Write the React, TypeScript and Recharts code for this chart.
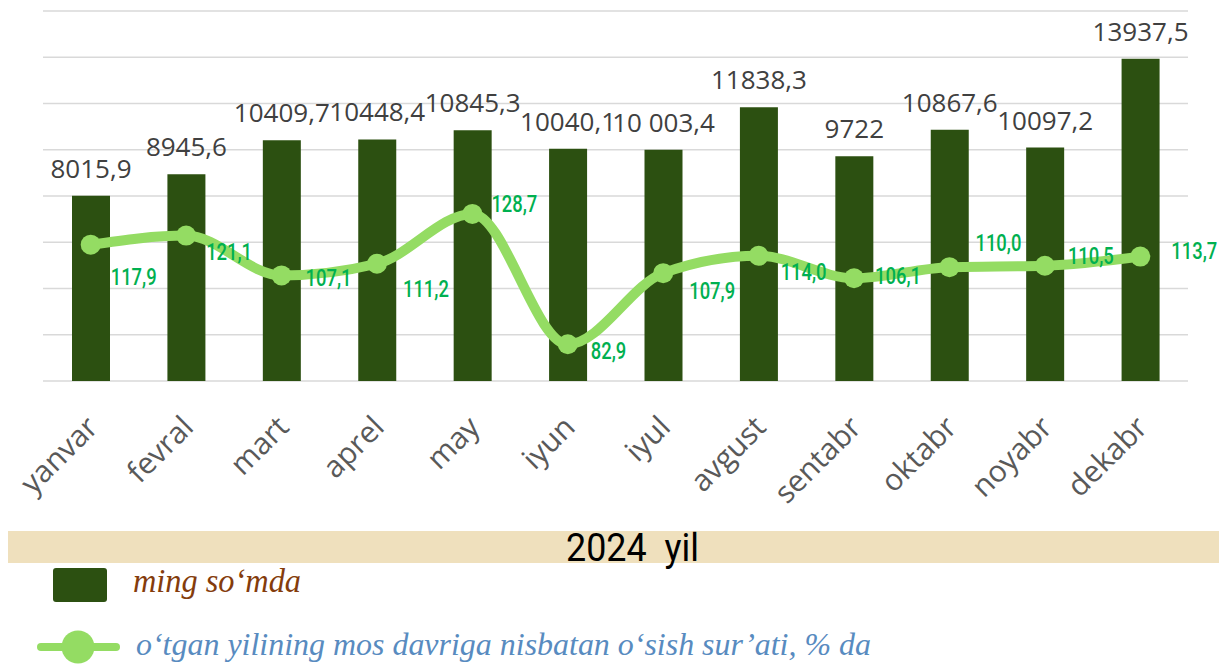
import { ComposedChart, Bar, Line, XAxis, YAxis, CartesianGrid, LabelList } from 'recharts'

const months = ['yanvar', 'fevral', 'mart', 'aprel', 'may', 'iyun', 'iyul', 'avgust', 'sentabr', 'oktabr', 'noyabr', 'dekabr']
const amountValues = [8015.9, 8945.6, 10409.7, 10448.4, 10845.3, 10040.1, 10003.4, 11838.3, 9722, 10867.6, 10097.2, 13937.5]
const amountLabels = ['8015,9', '8945,6', '10409,7', '10448,4', '10845,3', '10040,1', '10 003,4', '11838,3', '9722', '10867,6', '10097,2', '13937,5']
const growthValues = [117.9, 121.1, 107.1, 111.2, 128.7, 82.9, 107.9, 114.0, 106.1, 110.0, 110.5, 113.7]
const amountTicks = [0, 2000, 4000, 6000, 8000, 10000, 12000, 14000, 16000]

// growth labels sit beside the points, each nudged a bit like in the source
const growthLabelDx = [20, 20, 24, 26, 19, 23, 26, 22, 21, 26, 23, 31]
const growthLabelDy = [33, 17, 3, 26, -10, 7, 18, 17, -2, -24, -9, -5]

const BAR_COLOR = '#2c5011'
const LINE_COLOR = '#94dc63'

const data = months.map((m, i) => ({ month: m, amount: amountValues[i], growth: growthValues[i] }))

function MonthTick(props: any) {
  const { x, y, payload } = props
  const px = x + 9
  const py = y + 48
  return (
    <text x={px} y={py} transform={`rotate(-45 ${px} ${py})`} textAnchor="end" fill="#595959" fontSize={30} fontFamily="Open Sans">
      {payload.value}
    </text>
  )
}

function AmountLabel(props: any) {
  const { x, y, width, index } = props
  return (
    <text x={x + width / 2} y={y - 18} textAnchor="middle" fill="#404040" fontSize={26} fontFamily="Open Sans">
      {amountLabels[index]}
    </text>
  )
}

function GrowthLabel(props: any) {
  const { x, y, value, index } = props
  const lx = x + growthLabelDx[index]
  const ly = y + growthLabelDy[index]
  return (
    <text
      transform={`translate(${lx} ${ly}) scale(0.8 1)`}
      dominantBaseline="central"
      fill="#00b050"
      fontSize={23}
      fontWeight={500}
      fontFamily="Roboto"
    >
      {Number(value).toFixed(1).replace('.', ',')}
    </text>
  )
}

export default function App() {
  return (
    <div style={{ position: 'absolute', left: 0, top: 0, width: 1219, height: 664, background: '#fff', fontFamily: 'Open Sans' }}>
      <ComposedChart width={1219} height={520} data={data} margin={{ top: 11, right: 31, bottom: 20, left: 43 }}>
        <CartesianGrid yAxisId="left" vertical={false} stroke="#d9d9d9" strokeWidth={1.5} />
        <XAxis dataKey="month" height={119} axisLine={false} tickLine={false} tickSize={0} tickMargin={0} interval={0} tick={<MonthTick />} />
        <YAxis yAxisId="left" domain={[0, 16000]} ticks={amountTicks} hide />
        <YAxis yAxisId="right" orientation="right" domain={[70, 200]} hide />
        <Bar yAxisId="left" dataKey="amount" fill={BAR_COLOR} barSize={38} isAnimationActive={false}>
          <LabelList dataKey="amount" content={<AmountLabel />} />
        </Bar>
        <Line
          yAxisId="right"
          type="monotone"
          dataKey="growth"
          stroke={LINE_COLOR}
          strokeWidth={10}
          dot={{ r: 10, fill: LINE_COLOR, stroke: LINE_COLOR, strokeWidth: 0 }}
          activeDot={false}
          isAnimationActive={false}
        >
          <LabelList dataKey="growth" content={<GrowthLabel />} />
        </Line>
      </ComposedChart>

      <svg width={1219} height={144} style={{ position: 'absolute', left: 0, top: 520 }}>
        <rect x={8} y={11} width={1211} height={32} fill="#efe0bd" />
        <text x={566} y={41} fill="#000" fontSize={39} fontFamily="Roboto" transform="translate(566 41) scale(0.92 1) translate(-566 -41)">
          2024{'\u00a0 '}yil
        </text>

        <rect x={53} y={48} width={54} height={34} rx={3} fill={BAR_COLOR} />
        <text x={133} y={72} fill="#843c0c" fontSize={33} fontStyle="italic" fontFamily="Liberation Serif" textLength={168} lengthAdjust="spacingAndGlyphs">
          ming so‘mda
        </text>

        <line x1={41} y1={127} x2={116} y2={127} stroke={LINE_COLOR} strokeWidth={8} strokeLinecap="round" />
        <circle cx={78} cy={127} r={16.5} fill={LINE_COLOR} />
        <text x={136} y={135} fill="#588bc0" fontSize={32} fontStyle="italic" fontFamily="Liberation Serif" textLength={735} lengthAdjust="spacingAndGlyphs">
          o‘tgan yilining mos davriga nisbatan o‘sish sur’ati, % da
        </text>
      </svg>
    </div>
  )
}
